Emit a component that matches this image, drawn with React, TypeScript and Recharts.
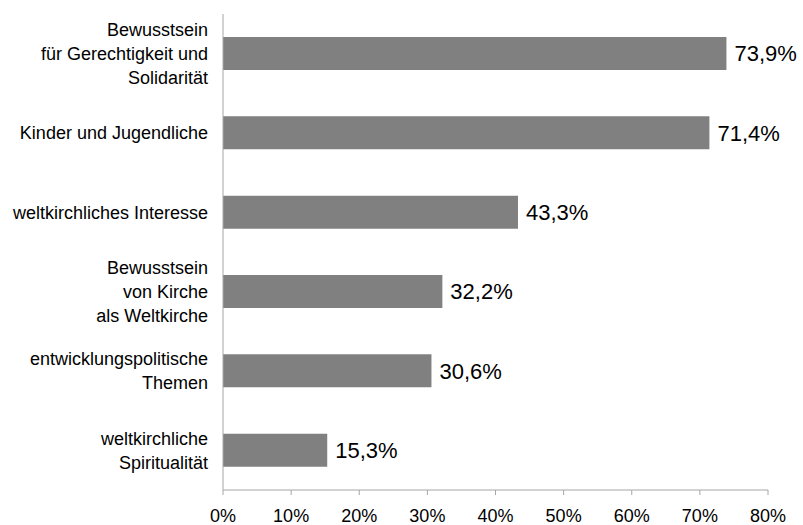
import { BarChart, Bar, XAxis, YAxis, LabelList } from 'recharts';

const categories: string[][] = [
  ['Bewusstsein', 'für Gerechtigkeit und', 'Solidarität'],
  ['Kinder und Jugendliche'],
  ['weltkirchliches Interesse'],
  ['Bewusstsein', 'von Kirche', 'als Weltkirche'],
  ['entwicklungspolitische', 'Themen'],
  ['weltkirchliche', 'Spiritualität'],
];

const shares = [73.9, 71.4, 43.3, 32.2, 30.6, 15.3];

const xTicks = [0, 10, 20, 30, 40, 50, 60, 70, 80];

// band boundaries for the category tick marks
const bandEdges = [0, 1, 2, 3, 4, 5, 6];

const data = categories.map((lines, i) => ({ name: lines.join('\n'), value: shares[i] }));

const FONT = '"Liberation Sans", Arial, sans-serif';
const AXIS = '#a6a6a6';

const CategoryTick = (props: any) => {
  const { x, y, payload } = props;
  const lines: string[] = String(payload.value).split('\n');
  const lineH = 24;
  const start = -((lines.length - 1) * lineH) / 2;
  return (
    <text x={x} y={y} textAnchor="end" fill="#000" fontSize={18} fontFamily={FONT}>
      {lines.map((l, i) => (
        <tspan key={i} x={x} y={y + start + i * lineH} dy="0.35em">
          {l}
        </tspan>
      ))}
    </text>
  );
};

export default function App() {
  return (
    <div style={{ position: 'absolute', left: 0, top: 0, background: '#fff' }}>
      <BarChart
        width={803}
        height={525}
        data={data}
        layout="vertical"
        margin={{ top: 14, right: 35, bottom: 0, left: 0 }}
        barCategoryGap={0}
      >
        <XAxis
          type="number"
          domain={[0, 80]}
          ticks={xTicks}
          interval={0}
          tickFormatter={(v) => `${v}%`}
          height={35}
          stroke={AXIS}
          tickSize={5}
          tickMargin={14}
          tick={{ fill: '#000', fontSize: 18, fontFamily: FONT }}
        />
        <YAxis
          yAxisId="cat"
          type="category"
          dataKey="name"
          width={223}
          stroke={AXIS}
          tickLine={false}
          tickSize={5}
          tickMargin={10}
          interval={0}
          tick={<CategoryTick />}
        />
        <YAxis
          yAxisId="edges"
          type="number"
          domain={[0, 6]}
          ticks={bandEdges}
          interval={0}
          width={0}
          axisLine={false}
          stroke={AXIS}
          tickSize={5}
          tick={false}
        />
        <Bar yAxisId="cat" dataKey="value" fill="#808080" barSize={33} isAnimationActive={false}>
          <LabelList
            dataKey="value"
            position="right"
            offset={8}
            formatter={(v: any) => `${String(v).replace('.', ',')}%`}
            style={{ fill: '#000', fontSize: 22, fontFamily: FONT }}
          />
        </Bar>
      </BarChart>
    </div>
  );
}
